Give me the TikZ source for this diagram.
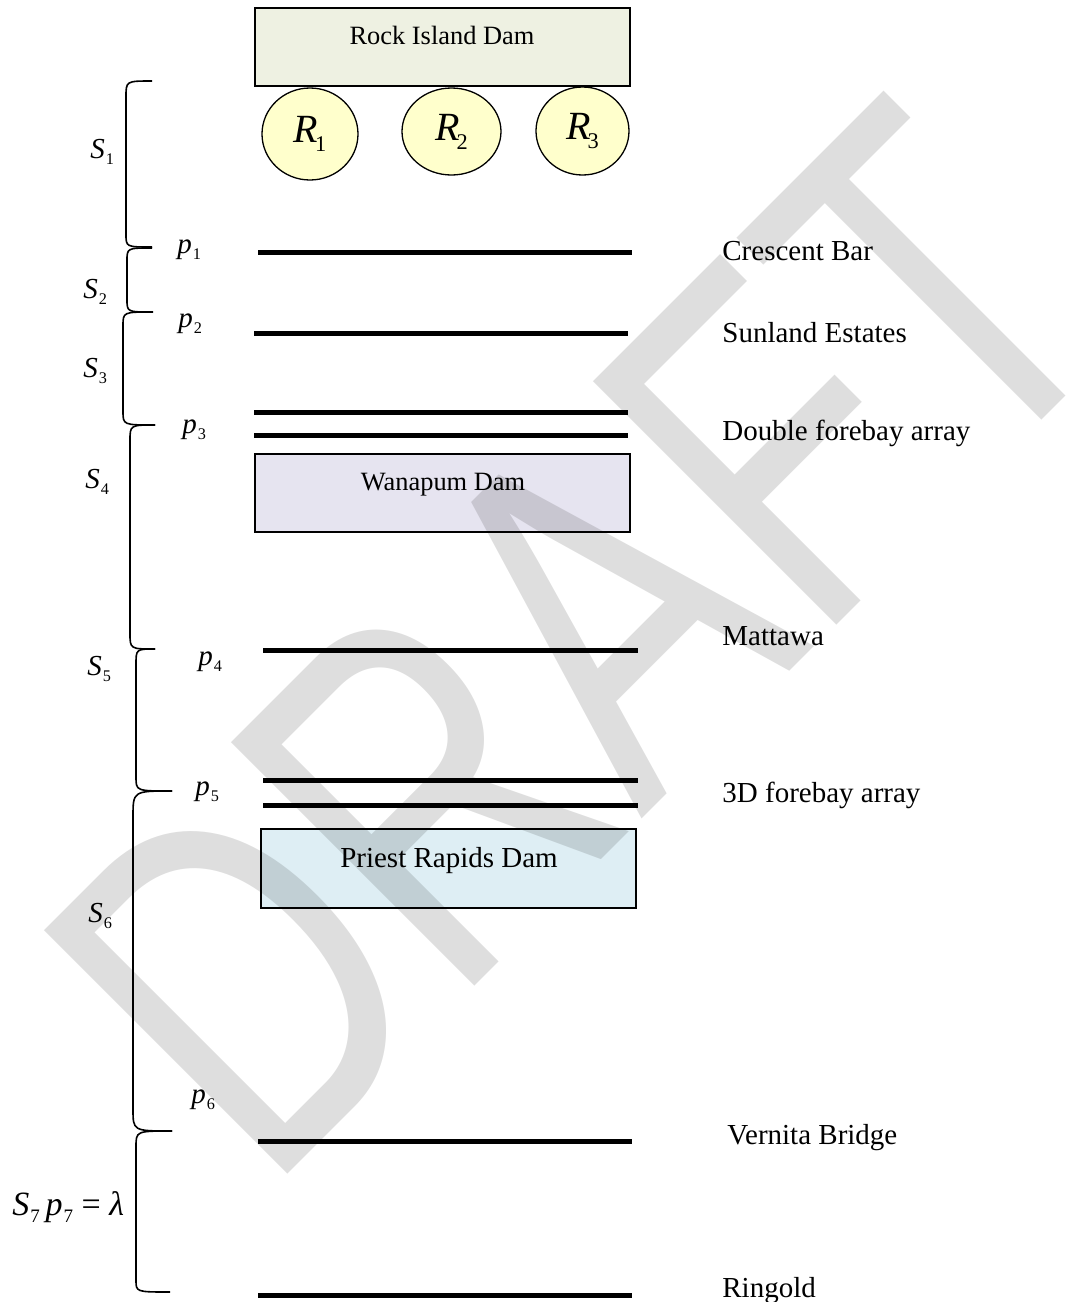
\documentclass[tikz,border=0pt]{standalone}
\usepackage{fontspec}
\setmainfont{Liberation Serif}
\newfontfamily\wmfont{Liberation Sans}
\usepackage{graphicx}
\usetikzlibrary{shapes.geometric}
\definecolor{rockfill}{RGB}{238,241,226}
\definecolor{resfill}{RGB}{255,255,204}
\definecolor{wanafill}{RGB}{230,228,240}
\definecolor{priestfill}{RGB}{222,238,244}
\definecolor{wmgray}{RGB}{222,222,222}
\newcommand{\lsub}[1]{\kern0.03em\raisebox{-0.5ex}{\scalebox{0.56}{\upshape #1}}}
\newcommand{\bracketpath}[7]{%
  \draw[brk] (#1,#2) .. controls (#3,#2) .. (#3,#2+#6) -- (#3,#5-#7) .. controls (#3,#5) .. (#4,#5);}
\begin{document}
\begin{tikzpicture}[x=0.5pt,y=-0.5pt,
  lbl/.style={font=\fontsize{14.5}{16}\selectfont, anchor=base west, inner sep=0},
  sym/.style={font=\fontsize{14.5}{16}\selectfont\itshape, anchor=base west, inner sep=0},
  dambox/.style={draw=black, line width=0.65pt, inner sep=0, minimum width=187.5pt, minimum height=39pt},
  damtext/.style={anchor=base, inner sep=0},
  level/.style={line width=2.5pt},
  brk/.style={line width=0.8pt},
  res/.style={ellipse, draw=black, fill=resfill, line width=0.65pt, inner sep=0,
    font=\fontsize{20}{22}\selectfont\itshape}
]
\useasboundingbox (0,0) rectangle (1078,1302);

% dams
\node[dambox, fill=rockfill] (rock) at (442.5,47) {};
\node[damtext, font=\fontsize{13.2}{15}\selectfont] (rocktxt) at (442,44) {Rock Island Dam};
\node[dambox, fill=wanafill] (wana) at (442.5,493) {};
\node[damtext, font=\fontsize{13.2}{15}\selectfont] (wanatxt) at (443,490) {Wanapum Dam};
\node[dambox, fill=priestfill, minimum height=39.5pt] (priest) at (448.5,868.5) {};
\node[damtext, font=\fontsize{14.5}{16}\selectfont] (priesttxt) at (449,867) {Priest Rapids Dam};

% reservoirs
\node[res, minimum width=48pt, minimum height=46pt] (r1) at (310,134) {R\kern-0.1em\lsub{1}};
\node[res, minimum width=49.5pt, minimum height=43.5pt] (r2) at (451.5,131.5) {R\kern-0.1em\lsub{2}};
\node[res, minimum width=46.5pt, minimum height=44pt] (r3) at (582.5,131) {R\kern-0.1em\lsub{3}};

% levels
\draw[level] (258,252) -- (632,252);
\draw[level] (254,333) -- (628,333);
\draw[level] (254,412) -- (628,412);
\draw[level] (254,435) -- (628,435);
\draw[level] (263,650) -- (638,650);
\draw[level] (263,780) -- (638,780);
\draw[level] (263,805) -- (638,805);
\draw[level] (258,1141) -- (632,1141);
\draw[level] (258,1295) -- (632,1295);

% brackets
\bracketpath{152}{81}{126}{152}{247}{16}{13}
\bracketpath{152}{248}{127}{152}{312}{13}{13}
\bracketpath{153}{312}{123}{155}{425}{14}{14}
\bracketpath{155}{425}{130}{155}{649}{16}{16}
\bracketpath{155}{649}{136}{172}{791}{16}{14}
\bracketpath{172}{791}{133}{172}{1131}{26}{22}
\bracketpath{172}{1131}{136}{170}{1292}{16}{12}

% segment labels
\node[sym] (s1) at (90,158) {S\lsub{1}};
\node[sym] (s2) at (83,298) {S\lsub{2}};
\node[sym] (s3) at (83,377) {S\lsub{3}};
\node[sym] (s4) at (85,488) {S\lsub{4}};
\node[sym] (s5) at (87,675) {S\lsub{5}};
\node[sym] (s6) at (88,922) {S\lsub{6}};
\node[sym, font=\fontsize{17}{19}\selectfont\itshape] (s7) at (12,1215) {S\lsub{7}\,p\lsub{7}\ {\upshape=}\ λ};

\node[sym] (p1) at (177,253) {p\lsub{1}};
\node[sym] (p2) at (178,327) {p\lsub{2}};
\node[sym] (p3) at (182,433) {p\lsub{3}};
\node[sym] (p4) at (198,665) {p\lsub{4}};
\node[sym] (p5) at (195,795) {p\lsub{5}};
\node[sym] (p6) at (191,1103) {p\lsub{6}};

% site labels
\node[lbl] (crescent) at (722,260) {Crescent Bar};
\node[lbl] (sunland) at (722,342) {Sunland Estates};
\node[lbl] (double) at (722,440) {Double forebay array};
\node[lbl] (mattawa) at (722,645) {Mattawa};
\node[lbl] (threed) at (722,802) {3D forebay array};
\node[lbl] (vernita) at (727,1144) {Vernita Bridge};
\node[lbl] (ringold) at (722,1297) {Ringold};

% watermark
\begin{scope}[blend mode=multiply]
\node[rotate=45, yscale=1.36, inner sep=0, text=wmgray,
  font=\wmfont\fontsize{184}{184}\selectfont] (wm) at (578,640) {DRAFT};
\end{scope}
\end{tikzpicture}
\end{document}
